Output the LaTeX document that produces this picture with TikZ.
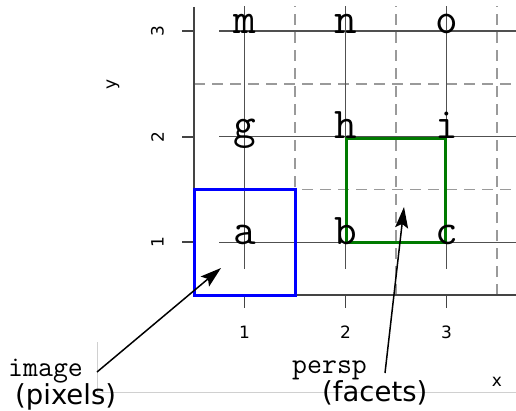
\documentclass[tikz,border=0pt]{standalone}
\usepackage{fontspec}
\newfontfamily\djsans{DejaVu Sans}
\usetikzlibrary{arrows.meta}
\definecolor{gridsolid}{HTML}{505050}
\definecolor{griddash}{HTML}{9A9A9A}
\definecolor{axiscol}{HTML}{444444}
\definecolor{framecol}{HTML}{D0D0D0}
\definecolor{facetgreen}{HTML}{007A00}
\tikzset{
  gridline/.style={draw=gridsolid, line width=1.5pt},
  dashline/.style={draw=griddash, line width=1.8pt, dash pattern=on 11pt off 7pt},
  axisline/.style={draw=axiscol, line width=2pt},
  tickline/.style={draw=axiscol, line width=1.6pt},
  ticklab/.style={font=\djsans\fontsize{17}{17}\selectfont, inner sep=0pt},
  cell/.style={font=\ttfamily\fontsize{44}{44}\selectfont, inner sep=0pt, anchor=mid},
  codelab/.style={font=\ttfamily\fontsize{29}{29}\selectfont, inner sep=0pt, anchor=base west},
  sanslab/.style={font=\djsans\fontsize{27.5}{27.5}\selectfont, inner sep=0pt, anchor=base west},
  callout/.style={draw=black, line width=1.5pt, -{Stealth[length=21pt,width=13pt,inset=4pt]}},
  rectblue/.style={draw=blue, line width=3pt},
  rectgreen/.style={draw=facetgreen, line width=3pt},
}
\begin{document}
\begin{tikzpicture}[x=1pt,y=1pt]
\useasboundingbox (0,0) rectangle (516,410);
% light frame lines
\draw[framecol, line width=0.8pt] (97,68) -- (97,18) -- (516,18);
\begin{scope}[shift={(143.5pt,62.25pt)}, x=101pt, y=105.5pt]
  \begin{scope}
    \clip (0.5,0.5) rectangle (3.688,3.23);
    \foreach \v in {1.5,2.5,3.5} \draw[dashline] (\v,0.5) -- (\v,3.3);
    \foreach \v in {1.5,2.5} \draw[dashline] (0.5,\v) -- (3.8,\v);
    \foreach \v in {1,2,3} {
      \draw[gridline] (0.75,\v) -- (3.8,\v);
      \draw[gridline] (\v,0.75) -- (\v,3.3);
    }
  \end{scope}
  % axes
  \draw[axisline] (0.5,3.23) -- (0.5,0.5) -- (3.688,0.5);
  \foreach \v in {1,2,3} {
    \draw[tickline] (0.5,\v) -- ++(-12pt,0);
    \draw[tickline] (\v,0.5) -- ++(0,-13pt);
    \node[ticklab] (xt\v) at ([yshift=-37pt]\v,0.5) {\v};
    \node[ticklab, rotate=90] (yt\v) at ([xshift=-36.5pt]0.5,\v) {\v};
  }
  % rectangles
  \draw[rectblue] (0.5,0.5) rectangle (1.5,1.5);
  \draw[rectgreen] (2.01,1.0) rectangle (2.99,1.98);
  % cell letters
  \node[cell] (a) at (1,1) {a};
  \node[cell] (b) at (2,1) {b};
  \node[cell] (c) at (3,1) {c};
  \node[cell] (g) at (1,2) {g};
  \node[cell] (h) at (2,2) {h};
  \node[cell] (i) at (3,2) {i};
  \node[cell] (m) at (1,3) {m};
  \node[cell] (n) at (2,3) {n};
  \node[cell] (o) at (3,3) {o};
\end{scope}
% axis titles
\node[ticklab] (xlab) at (497,28) {x};
\node[ticklab, rotate=90] (ylab) at (113,326) {y};
% callout labels
\node[codelab] (imagelab) at (8,34) {image};
\node[sanslab] (pixlab) at (15,6) {(pixels)};
\node[codelab] (persplab) at (292,37) {persp};
\node[sanslab] (faclab) at (322,9) {(facets)};
\coordinate (imgstart) at (97,38);
\coordinate (imgtip) at (221,142);
\coordinate (perspstart) at (385,37);
\coordinate (persptip) at (404,203);
\draw[callout] (imgstart) -- (imgtip);
\draw[callout] (perspstart) -- (persptip);
\end{tikzpicture}
\end{document}
